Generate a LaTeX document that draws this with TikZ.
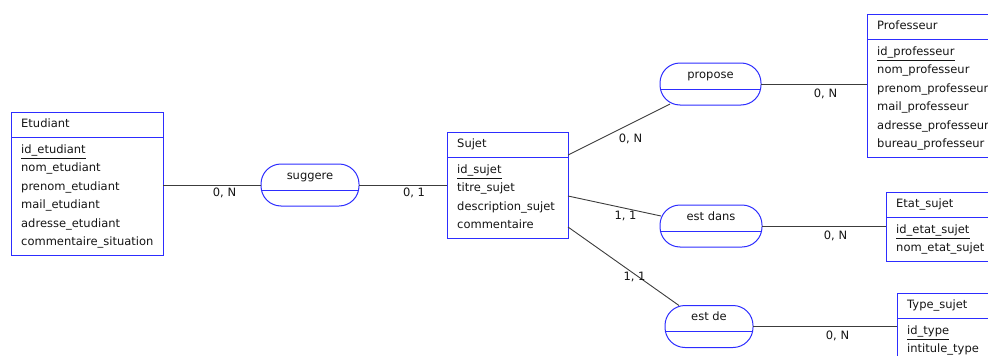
\documentclass[tikz,border=0pt]{standalone}
\usepackage{fontspec}
\setmainfont{DejaVu Sans}
\usetikzlibrary{calc}

\definecolor{entblue}{RGB}{45,45,255}
\definecolor{linkgray}{RGB}{60,60,60}
\definecolor{txt}{RGB}{20,20,20}

\tikzset{
  entity/.style={draw=entblue, line width=1pt, rectangle, anchor=north west,
    inner sep=0pt, outer sep=0pt},
  relation/.style={draw=entblue, line width=1pt, rectangle, rounded corners=20pt,
    minimum height=42pt, inner sep=0pt, outer sep=0pt},
  sepline/.style={draw=entblue, line width=1pt},
  attr/.style={anchor=base west, inner sep=0pt, text=txt,
    font=\fontsize{11.5}{13}\selectfont},
  rtext/.style={anchor=base, inner sep=0pt, text=txt,
    font=\fontsize{11.5}{13}\selectfont},
  card/.style={anchor=base, inner sep=0pt, text=txt,
    font=\fontsize{11.5}{13}\selectfont},
  link/.style={draw=linkgray, line width=0.9pt},
  keyline/.style={draw=txt, line width=0.9pt},
}

% entity box: name, top-left corner, width, number of attributes, title, attributes
\newcommand\erentity[6]{%
  \node[entity, minimum width=#3, minimum height={(51+18.5*(#4-1))*1pt}] (#1) at #2 {};
  \node[attr] (#1-title) at ($(#1.north west)+(10,15.5)$) {#5};
  \draw[sepline] ($(#1.north west)+(0,25.5)$) -- ($(#1.north east)+(0,25.5)$);
  \foreach \a [count=\i] in {#6} {
    \node[attr] (#1-\i) at ($(#1.north west)+(10,41+18.5*\i-18.5)$) {\a};
  }
  \draw[keyline] ([yshift=-5pt]#1-1.base west) -- ([yshift=-5pt]#1-1.base east);
}

% relationship: name, centre, width, label
\newcommand\errelation[4]{%
  \node[relation, minimum width=#3] (#1) at #2 {};
  \node[rtext] (#1-t) at ($(#1.north)+(0,15)$) {#4};
  \draw[sepline] ($(#1.north west)+(0,26)$) -- ($(#1.north east)+(0,26)$);
}

\begin{document}
\begin{tikzpicture}[x=1pt, y=-1pt]
\useasboundingbox (0,0) rectangle (988,356);

% entities
\erentity{etudiant}{(11,112)}{152pt}{6}{Etudiant}
  {id\_etudiant, nom\_etudiant, prenom\_etudiant, mail\_etudiant, adresse\_etudiant, commentaire\_situation}
\erentity{sujet}{(447,132)}{121pt}{4}{Sujet}
  {id\_sujet, titre\_sujet, description\_sujet, commentaire}
\erentity{professeur}{(867,14)}{150pt}{6}{Professeur}
  {id\_professeur, nom\_professeur, prenom\_professeur, mail\_professeur, adresse\_professeur, bureau\_professeur}
\erentity{etat}{(886,192)}{110pt}{2}{Etat\_sujet}
  {id\_etat\_sujet, nom\_etat\_sujet}
\erentity{type}{(897,293)}{110pt}{2}{Type\_sujet}
  {id\_type, intitule\_type}

% relationships
\errelation{suggere}{(310,185)}{98pt}{suggere}
\errelation{propose}{(710.5,84)}{101pt}{propose}
\errelation{estdans}{(711,226)}{102pt}{est dans}
\errelation{estde}{(709,326.5)}{88pt}{est de}

% connectors
\draw[link] (etudiant.east |- suggere.west) -- (suggere.west);
\draw[link] (suggere.east) -- (sujet.west |- suggere.east);
\draw[link] (propose.east) -- (professeur.west |- propose.east);
\draw[link] (estdans.east) -- (etat.west |- estdans.east);
\draw[link] (estde.east) -- (type.west |- estde.east);

\coordinate (sujet-a) at ($(sujet.north east)+(0,23)$);
\coordinate (sujet-b) at ($(sujet.north east)+(0,64)$);
\coordinate (sujet-c) at ($(sujet.north east)+(0,95)$);
\coordinate (propose-in) at ($(propose.south west)+(10,-1)$);
\coordinate (estdans-in) at ($(estdans.west)+(1,-10)$);
\coordinate (estde-in) at ($(estde.north west)+(14,0)$);
\draw[link] (sujet-a) -- (propose-in);
\draw[link] (sujet-b) -- (estdans-in);
\draw[link] (sujet-c) -- (estde-in);

% cardinalities
\node[card] (c1) at (224.5,196.5) {0, N};
\node[card] (c2) at (414,196.5) {0, 1};
\node[card] (c3) at (630.5,142) {0, N};
\node[card] (c4) at (825.5,97) {0, N};
\node[card] (c5) at (625.5,219) {1, 1};
\node[card] (c6) at (835.5,239) {0, N};
\node[card] (c7) at (634.5,280) {1, 1};
\node[card] (c8) at (837.5,339) {0, N};
\end{tikzpicture}
\end{document}
